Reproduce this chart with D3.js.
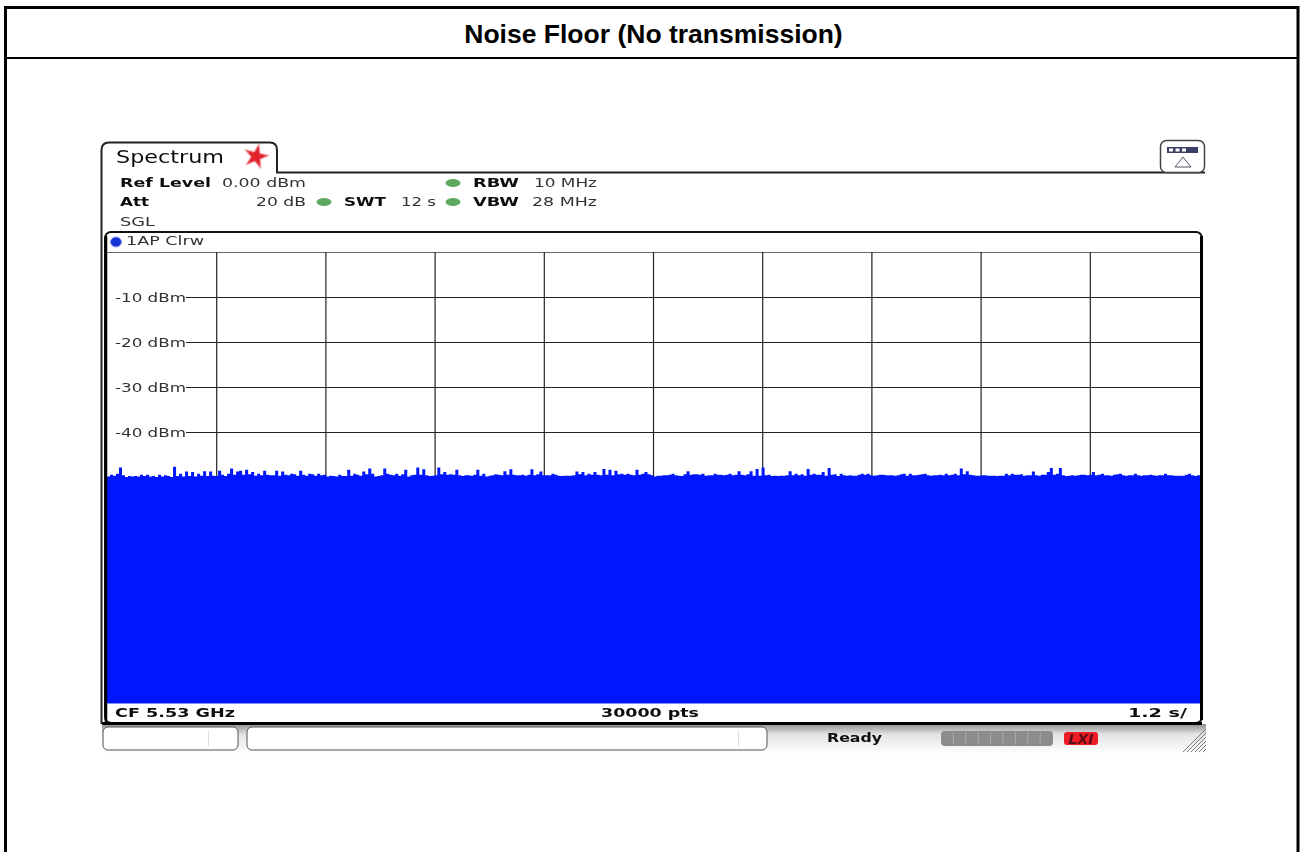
<!DOCTYPE html>
<html>
<head>
<meta charset="utf-8">
<title>Noise Floor (No transmission)</title>
<script src="https://cdn.jsdelivr.net/npm/d3@7"></script>
<style>
  html, body { margin: 0; padding: 0; background: #fff; overflow: hidden; }
  svg { display: block; }
  text { font-family: "DejaVu Sans", sans-serif; fill: #333; }
  .b { font-weight: bold; fill: #111; }
  .title { font-family: "Liberation Sans", Arial, sans-serif; font-weight: bold; font-size: 26.5px; fill: #000; }
</style>
</head>
<body>
<div id="container"></div>
<script>
const titleText = "Noise Floor (No transmission)";
const levelTicks = [-10, -20, -30, -40];
const timeTicks = [1.2, 2.4, 3.6, 4.8, 6, 7.2, 8.4, 9.6, 10.8];
const ledSegments = [0, 1, 2, 3, 4, 5, 6, 7, 8];

// trace peak level in dBm, sampled left to right over the 12 s sweep
const trace = [
  -49.9,-49.5,-49.7,-49.3,-47.9,-49.6,-50.0,-49.8,-49.9,-49.8,-49.9,-49.5,-49.8,-49.5,-49.9,-49.8,-50.0,-49.5,-49.9,-49.6,
  -49.8,-50.0,-47.7,-49.8,-49.3,-49.9,-48.8,-49.8,-48.9,-49.9,-49.3,-49.7,-48.7,-49.8,-48.8,-49.7,-49.8,-48.6,-49.5,-49.8,
  -49.3,-48.1,-49.5,-48.8,-48.6,-49.5,-48.4,-49.4,-48.9,-49.7,-49.3,-49.6,-48.6,-49.5,-49.6,-49.6,-48.6,-49.7,-48.8,-49.5,
  -49.6,-49.3,-49.4,-49.7,-48.6,-49.5,-49.7,-49.3,-49.4,-49.7,-49.3,-49.6,-49.5,
  -49.9,-49.7,-49.8,-49.9,-49.5,-49.8,-49.8,-48.4,-49.7,-49.3,-49.5,-49.7,-48.8,-49.4,-48.1,-49.3,-49.9,-49.8,-49.6,-48.1,
  -49.3,-49.5,-49.6,-49.3,-49.7,-49.4,-48.4,-49.9,-49.6,-49.5,-47.9,-49.5,-48.3,-49.6,-49.8,-49.7,-49.6,-47.9,-49.4,-48.9,
  -49.5,-49.4,-49.5,-48.4,-49.6,-49.8,-49.6,-49.6,-49.7,-49.5,-48.4,-49.7,-49.3,-49.9,-49.7,-49.6,-49.4,-49.5,-49.6,-48.7,
  -49.5,-48.3,-49.5,-49.6,-49.6,-49.5,-49.7,-49.5,-48.3,-49.6,-49.4,-48.8,-49.6,-49.6,
  -49.6,-49.3,-49.5,-49.7,-49.8,-49.7,-49.7,-49.7,-49.6,-48.8,-49.4,-48.9,-49.6,-49.3,-49.5,-48.9,-49.5,-49.6,-48.2,-49.5,
  -48.4,-49.6,-48.6,-49.4,-49.3,-49.5,-49.3,-49.5,-49.6,-48.4,-49.5,-49.3,-48.9,-49.4,-49.6,-49.9,-49.7,-49.7,-49.6,-49.6,
  -49.5,-49.3,-49.6,-49.7,-49.8,-49.4,-48.7,-49.5,-49.4,-49.4,-49.5,-49.3,-49.7,-49.6,-49.6,-49.3,-49.5,-49.5,-49.6,-49.5,
  -49.3,-49.6,-49.5,-48.7,-49.5,-49.6,-49.4,-48.7,-49.7,-48.2,-49.7,-47.9,-49.6,-49.5,
  -49.8,-49.7,-49.8,-49.7,-49.7,-49.6,-48.7,-49.6,-49.3,-49.6,-49.4,-49.7,-48.2,-49.5,-49.3,-49.5,-49.5,-48.9,-49.7,-48.0,
  -49.5,-49.4,-49.8,-49.3,-49.6,-49.7,-49.6,-49.7,-49.7,-49.5,-49.3,-49.5,-49.3,-49.6,-49.7,-49.6,-49.5,-49.5,-49.6,-49.6,
  -49.6,-49.7,-49.6,-49.4,-49.3,-49.7,-49.3,-49.6,-49.6,-49.5,-49.4,-49.3,-49.6,-49.7,-49.6,-49.6,-49.5,-49.6,-49.3,-49.6,
  -49.5,-49.3,-49.6,-48.1,-49.4,-48.7,-49.5,-49.6,-49.7,-49.7,-49.6,-49.6,-49.7,
  -49.7,-49.7,-49.8,-49.7,-49.7,-49.3,-49.6,-49.3,-49.5,-49.5,-49.4,-49.7,-49.6,-49.6,-48.8,-49.6,-49.7,-49.5,-49.5,-48.9,
  -48.0,-49.5,-49.3,-48.0,-49.6,-49.8,-49.7,-49.6,-49.7,-49.6,-49.5,-49.5,-49.6,-49.5,-48.9,-49.6,-49.5,-49.3,-49.6,-49.6,
  -49.7,-49.5,-49.4,-49.3,-49.6,-49.7,-49.6,-49.6,-49.3,-49.6,-49.7,-49.6,-49.6,-49.5,-49.6,-49.7,-49.6,-49.6,-49.3,-49.6,
  -49.6,-49.7,-49.7,-49.7,-49.7,-49.5,-49.3,-49.6,-49.8,-49.6,-49.5
];

const width = 1302, height = 852;
const plot = {left: 107, right: 1200, top: 252, bottom: 702};

const svg = d3.select("#container").append("svg")
  .attr("width", width)
  .attr("height", height);

const defs = svg.append("defs");
defs.append("filter").attr("id", "soft")
  .append("feGaussianBlur").attr("stdDeviation", 0.4);
const grad = defs.append("linearGradient").attr("id", "statusbar")
  .attr("x1", 0).attr("y1", 0).attr("x2", 0).attr("y2", 1);
grad.append("stop").attr("offset", "0%").attr("stop-color", "#8f8f8f");
grad.append("stop").attr("offset", "35%").attr("stop-color", "#e4e4e4");
grad.append("stop").attr("offset", "100%").attr("stop-color", "#ffffff");

// page table border
svg.append("path")
  .attr("d", `M5.5,852V7.5H1298V852`)
  .attr("fill", "none").attr("stroke", "#000").attr("stroke-width", 3);
svg.append("line").attr("x1", 5).attr("x2", 1298).attr("y1", 58).attr("y2", 58)
  .attr("stroke", "#000").attr("stroke-width", 2);
svg.append("text").attr("class", "title")
  .attr("x", 653.5).attr("y", 43).attr("text-anchor", "middle").text(titleText);

// Scales
const xScale = d3.scaleLinear().domain([0, 12]).range([plot.left, plot.right]);
const gridScale = d3.scaleLinear().domain([0, 12]).range([plot.left, plot.left + 1092]);
const yScale = d3.scaleLinear().domain([0, -100]).range([plot.top, plot.bottom]);
const sampleTime = d3.scaleLinear().domain([0, trace.length - 1]).range([0, 12]);

// status bar under the graph
svg.append("rect").attr("x", 102).attr("y", 724).attr("width", 1104).attr("height", 30)
  .attr("fill", "url(#statusbar)");
svg.append("rect").attr("x", 103).attr("y", 727).attr("width", 135).attr("height", 23).attr("rx", 5)
  .attr("fill", "#fff").attr("stroke", "#555");
svg.append("rect").attr("x", 247).attr("y", 727).attr("width", 520).attr("height", 23).attr("rx", 5)
  .attr("fill", "#fff").attr("stroke", "#555");
svg.append("line").attr("x1", 208.5).attr("x2", 208.5).attr("y1", 731).attr("y2", 747).attr("stroke", "#ddd");
svg.append("line").attr("x1", 738.5).attr("x2", 738.5).attr("y1", 731).attr("y2", 747).attr("stroke", "#ddd");

svg.append("rect").attr("x", 941).attr("y", 731).attr("width", 112).attr("height", 15).attr("rx", 4).attr("fill", "#8c8c8c");
svg.append("g").selectAll("line").data(ledSegments.slice(1)).join("line")
  .attr("x1", d => 941 + d * 12.4).attr("x2", d => 941 + d * 12.4)
  .attr("y1", 732).attr("y2", 745).attr("stroke", "#aaa");
svg.append("rect").attr("x", 1064).attr("y", 732).attr("width", 34).attr("height", 13).attr("rx", 3)
  .attr("fill", "#ee1c25").attr("filter", "url(#soft)");
svg.append("text").attr("x", 1081).attr("y", 744).attr("text-anchor", "middle")
  .attr("font-size", 14).attr("font-weight", "bold").attr("font-style", "italic")
  .attr("filter", "url(#soft)")
  .style("fill", "#5a1015").text("LXI");
svg.append("g").selectAll("line").data([0, 1, 2, 3, 4, 5]).join("line")
  .attr("x1", d => 1183 + d * 4).attr("y1", 752)
  .attr("x2", 1206).attr("y2", d => 729 + d * 4)
  .attr("stroke", "#777");

// tab + header
svg.append("path")
  .attr("d", "M101.5,724V150Q101.5,142.5,109,142.5H270Q277,142.5,277,150V172.5H1205")
  .attr("fill", "none").attr("stroke", "#222").attr("stroke-width", 2);
svg.append("path").attr("transform", "translate(256,156.5) rotate(14)")
  .attr("d", d3.symbol().type(d3.symbolStar).size(190)())
  .attr("fill", "#e0202c").attr("stroke", "#f3a0a5").attr("stroke-width", 1).attr("filter", "url(#soft)");
svg.append("rect").attr("x", 1160.5).attr("y", 140.5).attr("width", 44).attr("height", 32).attr("rx", 6)
  .attr("fill", "#fff").attr("stroke", "#444").attr("stroke-width", 1.5);
svg.append("rect").attr("x", 1167).attr("y", 147).attr("width", 31).attr("height", 6).attr("fill", "#3b3f66");
svg.append("g").selectAll("rect").data([0, 1, 2]).join("rect")
  .attr("x", d => 1169 + d * 6.5).attr("y", 148.5).attr("width", 4).attr("height", 3).attr("fill", "#fff");
svg.append("path").attr("d", "M1175,167L1183,157L1191,167Z").attr("fill", "#fff").attr("stroke", "#555566");

svg.append("g").selectAll("ellipse").data([[453, 183], [324, 202], [453, 202]]).join("ellipse")
  .attr("cx", d => d[0]).attr("cy", d => d[1]).attr("rx", 7.5).attr("ry", 4)
  .attr("fill", "#5fa85f").attr("filter", "url(#soft)");

// graph frame
svg.append("rect").attr("x", 105).attr("y", 232).attr("width", 1097).attr("height", 491).attr("rx", 6)
  .attr("fill", "#fff").attr("stroke", "#111").attr("stroke-width", 2);
svg.append("line").attr("x1", plot.left).attr("x2", plot.right).attr("y1", 252.5).attr("y2", 252.5).attr("stroke", "#666");
svg.append("ellipse").attr("cx", 116).attr("cy", 242).attr("rx", 5.5).attr("ry", 5).attr("fill", "#1432d8").attr("stroke", "#8899ee");

// Axis: grid lines come from the axis ticks
const xAxis = d3.axisBottom(gridScale).tickValues(timeTicks)
  .tickSize(plot.bottom - plot.top).tickFormat("");
const xG = svg.append("g").attr("transform", `translate(0, ${plot.top})`).call(xAxis);
xG.select(".domain").remove();
xG.selectAll("line").attr("stroke", "#222").attr("stroke-width", 1.2);

const yAxis = d3.axisLeft(yScale).tickValues(levelTicks).tickSize(0).tickFormat(d => `${d} dBm`);
const yG = svg.append("g").attr("transform", `translate(${plot.left},0)`).call(yAxis);
yG.select(".domain").remove();
yG.selectAll("line").attr("stroke", "#222").attr("x1", 79).attr("x2", plot.right - plot.left);
yG.selectAll("text")
  .attr("x", 8).attr("text-anchor", "start")
  .attr("font-family", null).attr("font-size", 13)
  .attr("textLength", 71).attr("lengthAdjust", "spacingAndGlyphs")
  .attr("filter", "url(#soft)");

// Draw trace
const areaGen = d3.area()
  .x((d, i) => xScale(sampleTime(i)))
  .y0(yScale(-100) + 1)
  .y1(d => yScale(d))
  .curve(d3.curveStepAfter);
svg.append("path").datum(trace)
  .attr("fill", "#0019ff")
  .attr("filter", "url(#soft)")
  .attr("d", areaGen);

// heavy frame edges sit over the trace
svg.append("line").attr("x1", 106).attr("x2", 106).attr("y1", 236).attr("y2", 722).attr("stroke", "#000").attr("stroke-width", 2.5);
svg.append("line").attr("x1", 1201.5).attr("x2", 1201.5).attr("y1", 236).attr("y2", 720).attr("stroke", "#000").attr("stroke-width", 3);
svg.append("line").attr("x1", 102).attr("x2", 1202).attr("y1", 723.5).attr("y2", 723.5).attr("stroke", "#000").attr("stroke-width", 3);
svg.append("line").attr("x1", 107).attr("x2", 1200).attr("y1", 703.5).attr("y2", 703.5).attr("stroke", "#8090ee");

// readout text, stretched to the width it has on the instrument screen
const info = svg.append("g").attr("filter", "url(#soft)");
function label(x, y, str, size, bold, len) {
  return info.append("text").attr("x", x).attr("y", y)
    .attr("class", bold ? "b" : null)
    .attr("font-size", size)
    .attr("textLength", len)
    .attr("lengthAdjust", "spacingAndGlyphs")
    .text(str);
}
label(116, 163, "Spectrum", 17, false, 108).style("fill", "#111");
label(120, 187, "Ref Level", 13, true, 91);
label(222, 187, "0.00 dBm", 13, false, 84);
label(120, 206, "Att", 13, true, 29);
label(256, 206, "20 dB", 13, false, 50);
label(344, 206, "SWT", 13, true, 42);
label(401, 206, "12 s", 13, false, 35);
label(473, 187, "RBW", 13, true, 46);
label(534, 187, "10 MHz", 13, false, 63);
label(473, 206, "VBW", 13, true, 46);
label(532, 206, "28 MHz", 13, false, 65);
label(120, 226, "SGL", 13, false, 35);
label(126, 245, "1AP Clrw", 13, false, 78);
label(115, 717, "CF 5.53 GHz", 13, true, 120);
label(601, 717, "30000 pts", 13, true, 98);
label(1128, 717, "1.2 s/", 13, true, 59);
label(827, 742, "Ready", 12, true, 55);
</script>
</body>
</html>
